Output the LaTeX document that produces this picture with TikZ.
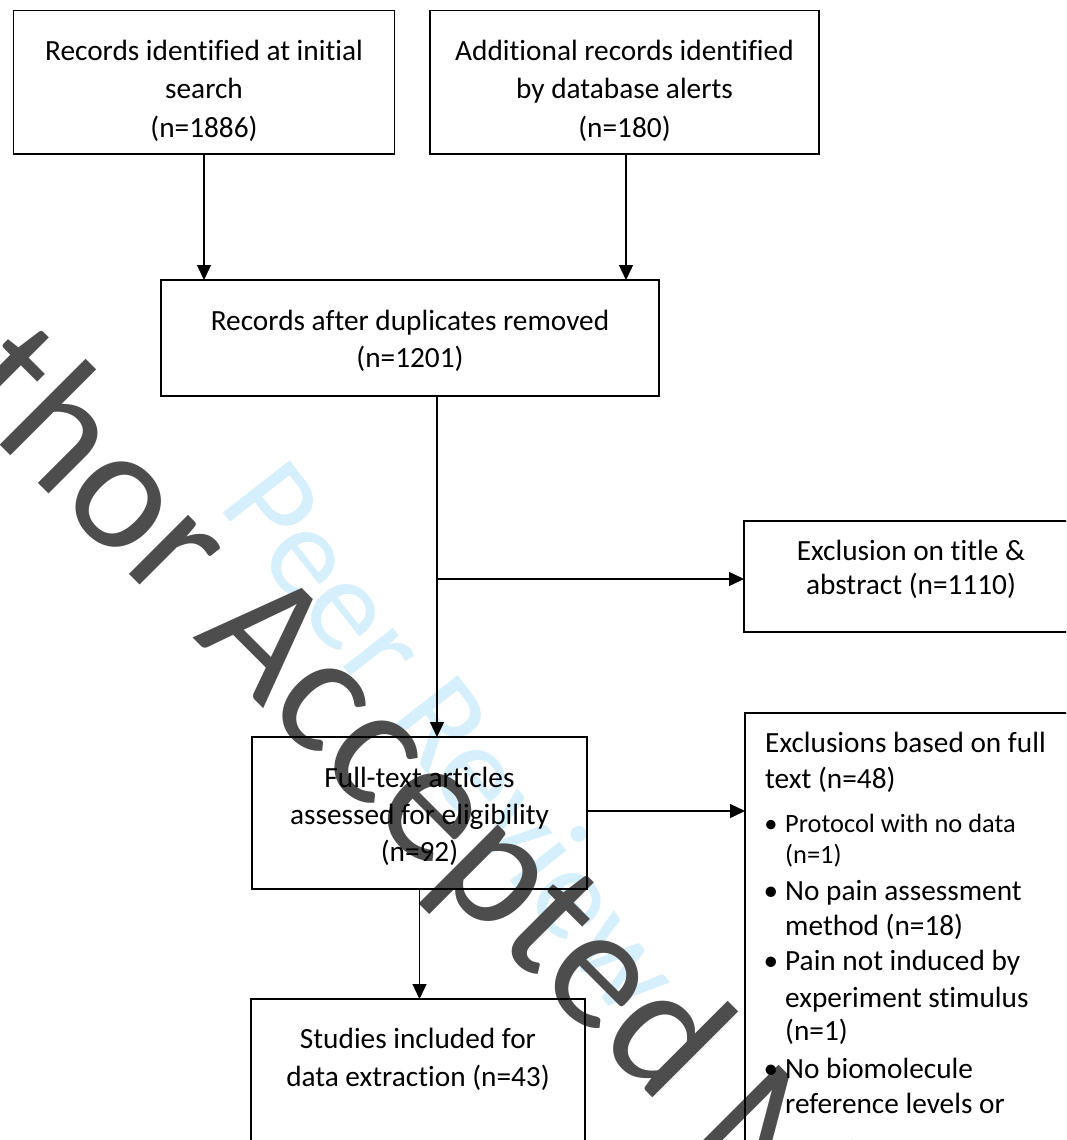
\documentclass[tikz,border=0pt]{standalone}
\usepackage{fontspec}
\setmainfont{Carlito}[Ligatures=NoCommon]
\usetikzlibrary{arrows.meta,calc}
\definecolor{wmgray}{RGB}{77,77,77}
\definecolor{wmblue}{RGB}{213,240,252}
\tikzset{
  box/.style={draw=black, line width=1.6pt, rectangle, inner sep=0pt, outer sep=0pt},
  txt/.style={inner sep=0pt, anchor=base, font=\fontsize{29.3}{38}\selectfont},
  ltxt/.style={inner sep=0pt, anchor=base west, font=\fontsize{29.3}{38}\selectfont},
  stxt/.style={inner sep=0pt, anchor=base west, font=\fontsize{26.4}{34}\selectfont},
  bul/.style={inner sep=0pt, anchor=base, font=\fontsize{29.3}{38}\selectfont},
  sbul/.style={inner sep=0pt, anchor=base, font=\fontsize{26.4}{34}\selectfont},
  conn/.style={line width=1.4pt, -{Triangle[length=15pt,width=14pt]}},
  plain/.style={line width=1.4pt},
  wmark/.style={inner sep=0pt, anchor=base west},
}
\begin{document}
\begin{tikzpicture}[x=1pt,y=-1pt]
\useasboundingbox (0,0) rectangle (1066,1140);
\clip (0,0) rectangle (1066,1140);
\fill[white] (0,0) rectangle (1066,1140);

% watermarks
\node[wmark, rotate=-52, text=wmblue, font=\fontsize{132}{132}\selectfont] (wmb) at (217,505) {Peer Review};
\node[wmark, rotate=-45, text=wmgray, font=\fontsize{175}{175}\selectfont] (wmg) at (-187,258) {Author Accepted Manuscript};

% boxes
\node[box, minimum width=381pt, minimum height=143.5pt] (a) at (204,82.25) {};
\node[box, minimum width=389pt, minimum height=143.5pt] (b) at (624.5,82.25) {};
\node[box, minimum width=498pt, minimum height=116pt] (c) at (410,338) {};
\node[box, minimum width=332pt, minimum height=111pt] (e) at (910,576.5) {};
\node[box, minimum width=335pt, minimum height=152pt] (d) at (419.5,813) {};
\node[box, minimum width=331pt, minimum height=447pt] (f) at (910.5,936.5) {};
\node[box, minimum width=334pt, minimum height=161pt] (g) at (418,1079.5) {};

% texts
\node[txt] (a1) at (204,60.7) {Records identified at initial};
\node[txt] (a2) at (204,98.3) {search};
\node[txt] (a3) at (204,137) {(n=1886)};
\node[txt] (b1) at (624.5,60.7) {Additional records identified};
\node[txt] (b2) at (624.5,98.3) {by database alerts};
\node[txt] (b3) at (624.5,137) {(n=180)};
\node[txt] (c1) at (410,330) {Records after duplicates removed};
\node[txt] (c2) at (410,367) {(n=1201)};
\node[txt] (e1) at (911,560) {Exclusion on title \&};
\node[txt] (e2) at (911,594) {abstract (n=1110)};
\node[txt] (d1) at (419.5,787) {Full-text articles};
\node[txt] (d2) at (419.5,824) {assessed for eligibility};
\node[txt] (d3) at (419.5,861) {(n=92)};
\node[txt] (g1) at (418,1048) {Studies included for};
\node[txt] (g2) at (418,1086) {data extraction (n=43)};

\node[ltxt] (f1) at (765,752) {Exclusions based on full};
\node[ltxt] (f2) at (765,788) {text (n=48)};
\node[sbul] (fb1) at (771,832) {\textbullet};
\node[stxt] (f3) at (785,832) {Protocol with no data};
\node[stxt] (f4) at (785,863) {(n=1)};
\node[bul] (fb2) at (771,900) {\textbullet};
\node[ltxt] (f5) at (785,900) {No pain assessment};
\node[ltxt] (f6) at (785,935) {method (n=18)};
\node[bul] (fb3) at (771,970) {\textbullet};
\node[ltxt] (f7) at (785,970) {Pain not induced by};
\node[ltxt] (f8) at (785,1007) {experiment stimulus};
\node[ltxt] (f9) at (785,1040) {(n=1)};
\node[bul] (fb4) at (771,1078) {\textbullet};
\node[ltxt] (f10) at (785,1078) {No biomolecule};
\node[ltxt] (f11) at (785,1113) {reference levels or};

% connectors
\coordinate (j1) at (437,579);
\draw[conn] (a.south) -- (a.south |- c.north);
\draw[conn] ([xshift=1.5pt]b.south) -- ([xshift=1.5pt]b.south |- c.north);
\draw[plain] (j1 |- c.south) -- (j1);
\draw[conn] (j1) -- (j1 |- d.north);
\draw[conn] (j1) -- (j1 -| e.west);
\draw[conn] ([yshift=2pt]d.east) -- ([yshift=2pt]d.east -| f.west);
\draw[conn] (d.south) -- (d.south |- g.north);
\end{tikzpicture}
\end{document}
